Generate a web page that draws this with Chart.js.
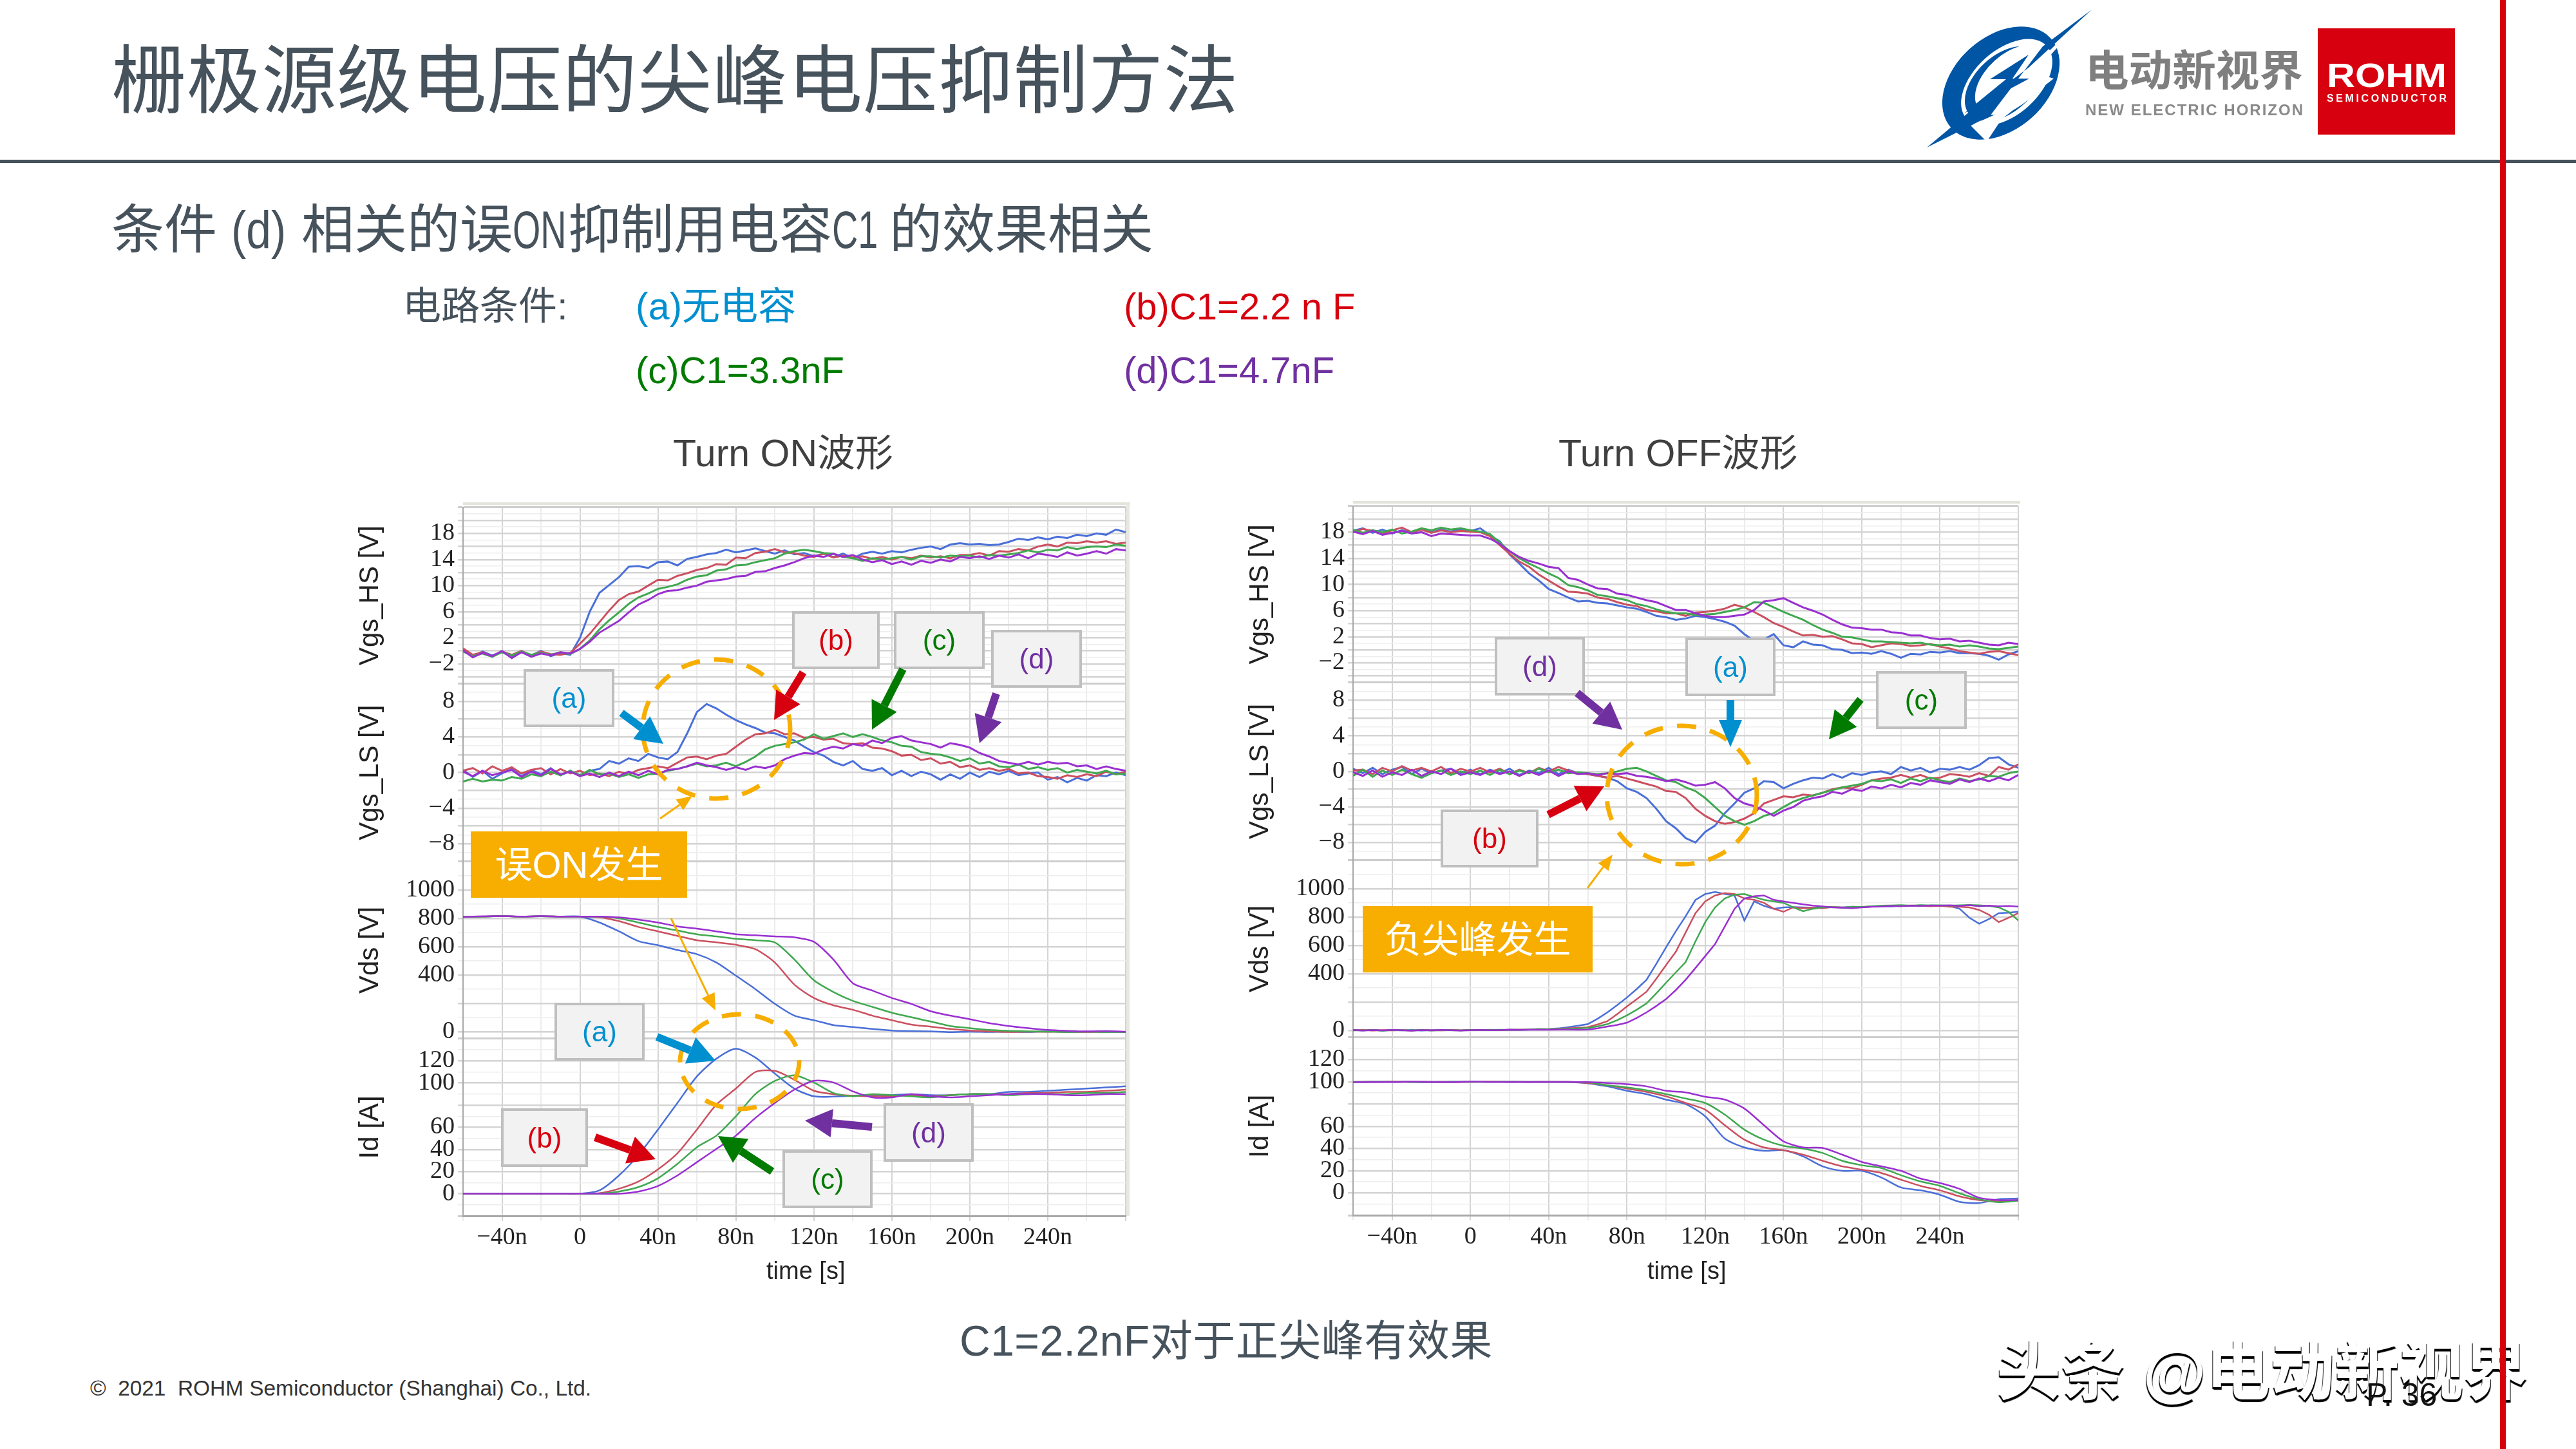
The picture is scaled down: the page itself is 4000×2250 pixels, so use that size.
<!DOCTYPE html>
<html>
<head>
<meta charset="utf-8">
<title>栅极源级电压的尖峰电压抑制方法</title>
<script src="https://cdn.jsdelivr.net/npm/chart.js@4/dist/chart.umd.js"></script>
<style>
html, body { margin: 0; background: #fff; }
#page { position: relative; width: 4000px; height: 2250px; overflow: hidden; background: #fff; font-family: 'Liberation Sans', 'Noto Sans CJK SC', sans-serif; }
#page canvas { position: absolute; }
#page svg { position: absolute; left: 0; top: 0; }
.t { position: absolute; white-space: pre; transform: translateY(-50%); line-height: 1; }
.slate { color: #46525c; }
/* the latin parts of the subtitle are set very narrow in the original */
.nw { display: inline-block; vertical-align: baseline; }
.nw span { display: inline-block; transform: scaleX(0.68); transform-origin: 0 50%; }
</style>
</head>
<body>
<div id="page">
  <canvas id="turnOn" width="1240" height="1240" style="left:540px;top:760px"></canvas>
  <canvas id="turnOff" width="1240" height="1240" style="left:1922px;top:758px"></canvas>

  <div class="t slate" style="left:173px;top:126px;font-size:116px;letter-spacing:0.7px">栅极源级电压的尖峰电压抑制方法</div>
  <div class="t slate" style="left:173px;top:357px;font-size:82px">条件<span class="nw" style="width:85px;margin:0 24px 0 22px"><span style="transform:scaleX(0.85)">(d)</span></span>相关的误<span class="nw" style="width:86px"><span>ON</span></span>抑制用电容<span class="nw" style="width:72px;margin-right:17px"><span>C1</span></span>的效果相关</div>
  <div class="t slate" style="left:625px;top:476px;font-size:60px">电路条件:</div>
  <div class="t" style="left:987px;top:476px;font-size:59px;color:#0090d0">(a)无电容</div>
  <div class="t" style="left:1745px;top:476px;font-size:58px;color:#d7000f">(b)C1=2.2 n F</div>
  <div class="t" style="left:987px;top:575px;font-size:58px;color:#007b00">(c)C1=3.3nF</div>
  <div class="t" style="left:1745px;top:575px;font-size:58px;color:#7030a0">(d)C1=4.7nF</div>
  <div class="t" style="left:1045px;top:704px;font-size:59px;color:#404040">Turn ON波形</div>
  <div class="t" style="left:2420px;top:704px;font-size:59px;color:#404040">Turn OFF波形</div>
  <div class="t" style="left:1190px;top:1973px;font-size:38px;color:#222">time [s]</div>
  <div class="t" style="left:2558px;top:1973px;font-size:38px;color:#222">time [s]</div>
  <div class="t slate" style="left:1490px;top:2082px;font-size:66px;letter-spacing:0.5px">C1=2.2nF对于正尖峰有效果</div>
  <div class="t" style="left:140px;top:2156px;font-size:33.4px;color:#333">©  2021  ROHM Semiconductor (Shanghai) Co., Ltd.</div>

  <svg id="notes" width="4000" height="2250" xmlns="http://www.w3.org/2000/svg"></svg>

  <div class="t" style="left:3100px;top:2130px;font-size:100px;font-weight:bold;color:#fff;text-shadow:-1px 3px 1px #000,1px 4px 1px #000">头条 @电动新视界</div>
  <div class="t" style="left:3674px;top:2166px;font-size:50px;color:#111">P. 36</div>
  <div style="position:absolute;left:3882px;top:0;width:9px;height:2250px;background:#d7000f"></div>
</div>

<script>
// sample times in ns
const tFine = [-60,-55,-50,-45,-40,-35,-30,-25,-20,-15,-10,-5,0,5,10,15,20,25,30,35,40,45,50,55,60,65,70,75,80,85,90,95,100,105,110,115,120,125,130,135,140,145,150,155,160,165,170,175,180,185,190,195,200,205,210,215,220,225,230,235,240,245,250,255,260,265,270,275,280];
const tCoarse = [-60,-50,-40,-30,-20,-10,0,10,20,30,40,50,60,70,80,90,100,110,120,130,140,150,160,170,180,190,200,210,220,230,240,250,260,270,280];

// Turn ON
const onHsA = [0.2,-0.9,-0.1,-0.7,-0.2,-0.9,-0.2,-0.7,0,-0.8,-0.3,-0.6,
  2.0,6.0,8.9,10.1,11.3,12.9,13.0,12.7,13.6,13.7,13.1,14.1,14.4,14.8,15.0,15.5,15.1,15.4,15.7,15.3,14.9,15.4,14.8,15.0,14.5,14.9,14.4,14.9,14.2,14.9,15.2,14.9,15.3,15.1,15.5,15.8,16.0,15.6,16.3,16.5,16.3,16.4,16.2,16.3,16.7,17.2,17.0,17.4,17.1,17.5,17.3,17.8,17.6,18.0,17.8,18.6,18.2];
const onHsB = [0.4,-0.6,-0.2,-0.8,-0.1,-0.6,0,-0.7,-0.1,-0.5,-0.6,-0.3,
  1.1,2.6,4.4,6.2,7.8,8.7,9.1,10.0,10.9,10.8,11.5,11.9,12.4,12.7,13.3,13.2,14.3,14.2,15.0,15.2,15.6,15.1,15.0,14.6,14.4,14.9,14.3,14.6,14.3,14.5,14.1,14.4,14.0,14.4,14.2,14.6,14.3,14.5,14.2,14.7,14.7,15.0,14.6,15.3,15.2,15.6,15.4,16.0,16.3,16.0,16.6,16.5,16.8,16.6,16.8,16.4,16.6];
const onHsC = [-0.1,-0.8,-0.4,-0.9,-0.2,-0.7,-0.1,-0.6,-0.3,-0.6,-0.2,-0.5,
  0.3,1.6,3.3,4.7,5.9,7.2,8.2,8.8,9.5,9.8,10.2,10.9,11.4,11.6,12.3,12.5,13.1,13.2,13.6,13.9,14.2,14.9,15.3,15.5,15.3,15.0,14.9,14.4,14.2,13.8,14.2,14.0,14.2,14.4,14.0,14.5,14.5,14.3,14.6,14.5,14.6,14.3,14.7,14.6,14.8,15.0,15.4,15.1,15.5,15.4,15.9,15.6,15.9,16.0,15.9,16.3,16.1];
const onHsD = [0.1,-1.0,-0.3,-0.8,0,-1.1,-0.2,-0.9,-0.4,-0.7,-0.2,-0.4,
  0.3,1.4,2.8,3.7,4.6,5.9,7.1,7.8,8.7,9.2,9.3,9.7,10.0,10.6,10.8,11.0,11.4,11.5,12.1,12.2,12.7,13.1,13.6,14.2,14.6,14.4,14.9,14.4,14.7,14.0,13.6,13.9,13.3,13.7,13.2,13.8,13.5,14.0,13.7,14.4,14.2,14.5,14.1,14.6,14.3,14.8,14.2,14.9,14.7,14.4,15.1,14.6,14.9,15.3,14.9,15.6,15.4];

const onLsA = [0.3,-0.5,0.2,-0.7,-0.1,0.4,-0.4,0.3,-0.2,0.5,-0.3,0.2,
  -0.3,0.2,0.4,1.3,1.0,1.6,1.3,2.1,1.7,1.5,2.3,4.4,6.8,7.7,7.2,6.5,5.9,5.4,5.0,4.5,4.4,4.0,3.6,2.9,2.3,1.9,1.2,0.8,1.3,0.4,0.2,0.5,-0.3,0.2,-0.4,0.1,-0.2,-0.8,-0.2,-0.7,0,-0.5,0.1,-0.2,0.2,-0.3,-0.1,0,-0.8,-0.5,-1.1,-0.6,-0.9,-0.3,-0.4,0,-0.3];
const onLsB = [0.2,0.5,-0.1,0.7,0.2,0.6,-0.1,0.3,0.5,-0.2,0.4,-0.1,
  0.2,-0.3,-0.1,-0.4,0.1,-0.2,0.3,0.5,0.7,0.5,1.1,1.7,1.8,1.5,1.9,2.1,2.9,3.7,4.3,4.4,4.8,4.3,4.4,3.9,4.0,3.7,3.8,3.3,3.2,3.3,2.8,2.7,2.4,1.9,2.0,1.4,1.6,1.0,1.2,0.6,0.8,0.3,0.5,0.2,0.4,-0.1,0,-0.4,-0.5,-0.7,-0.3,-0.5,-0.2,-0.4,0.1,-0.2,0.1];
const onLsC = [-1.0,-0.7,-1.0,-0.8,-0.9,-0.5,-0.7,-0.2,-0.4,0.1,-0.3,0.2,
  -0.3,0.3,-0.2,-0.1,-0.5,-0.2,-0.6,-0.2,-0.1,0.2,0.4,0.7,1.0,0.7,0.8,1.1,0.7,1.2,1.8,2.6,3.0,3.2,3.4,3.7,4.3,3.8,4.1,4.4,4.0,4.3,4.0,3.6,3.4,3.0,2.9,2.3,2.1,2.0,1.7,1.3,1.6,1.0,1.2,0.7,0.6,0.9,0.4,0.6,0.3,0.5,0,0.3,0.1,-0.1,0.2,-0.2,-0.1];
const onLsD = [0.1,-0.4,0.2,-0.3,0,0.3,-0.5,0.1,-0.3,0.4,-0.2,0.1,
  -0.4,-0.1,-0.5,0,-0.4,0.1,-0.3,0.2,-0.2,0.3,0.4,0.7,1.1,0.8,0.6,0.3,0.6,0.3,0.7,0.5,0.8,1.5,1.9,2.2,2.1,2.6,2.9,2.7,3.2,3.0,3.6,3.3,3.9,4.1,3.6,3.4,3.2,2.8,3.3,3.1,2.8,2.2,1.8,1.3,1.1,0.9,1.2,0.9,1.2,1.0,1.1,0.7,0.8,0.4,0.7,0.4,0.2];

const onVdsA = [810,812,815,812,814,812,812,770,708,639,610,576,547,488,395,300,196,113,81,46,33,19,8,4,2,-4,0,-2,0,-3,2,-2,0,-1,-2];
const onVdsB = [810,812,815,812,814,812,812,808,780,739,708,676,645,630,613,582,488,332,238,186,155,113,81,50,35,19,8,2,-2,0,-1,0,-2,0,-1];
const onVdsC = [810,812,815,812,814,812,812,812,800,770,739,714,687,672,655,645,630,509,363,280,217,175,134,102,71,40,25,12,6,2,0,-2,0,-3,-2];
const onVdsD = [810,814,816,812,815,812,812,812,806,791,770,743,727,708,687,680,672,666,634,509,342,290,238,196,144,113,88,60,40,25,12,6,2,4,0];

const onIdA = [0,0,0,0,0,0,0,3,16.5,35,58,82,106,122,131,123,108.5,95,88,87.7,88.5,89,89,90,89,89,90,90,92,92,93,94,95,96,97];
const onIdB = [0,0,0,0,0,0,0,0.5,4.5,11,22,36.5,58,80.5,95,110,111,103,93,90,88.5,88,88,89,88,89,90,90,90,91,91,92,92,93,94];
const onIdC = [0,0,0,0,0,0,0,0,2,6,14,27,42,52.5,70,90,102,107,100.5,91,88,90,89,88,87,89,90,90,89,90,90,90,91,91,92];
const onIdD = [0,0,0,0,0,0,0,0,0,2,7,16.5,28.5,40.5,52.5,68.5,82,94,102,100.5,92.5,87,87,90,88,87,88,89,90,90,90,89,89,90,90];

// Turn OFF
const offHsA = [18.2,18.6,17.9,18.4,17.8,18.3,17.9,18.5,18.0,18.4,18.1,18.5,
  18.2,18.6,17.5,16.6,14.6,13.2,11.7,10.6,9.3,8.7,8.0,7.4,7.5,7.2,7.1,6.8,6.5,6.3,5.8,5.2,5.0,4.6,4.8,5.2,5.0,4.7,4.3,3.7,2.4,1.4,1.6,2.4,0.7,0.4,1.3,0.8,0.7,0.1,0,-0.5,-0.4,-0.6,-0.2,-0.6,-1.2,-0.6,-0.7,-0.3,-0.4,-0.2,-0.5,-0.5,-0.6,-0.9,-1.5,-0.7,-0.2];
const offHsB = [18.0,18.5,18.2,17.7,18.3,18.7,18.0,18.4,17.9,18.3,18.0,18.2,
  18.1,18.0,17.4,16.0,14.7,13.5,12.7,11.5,10.6,9.7,8.9,8.8,8.6,8.0,7.8,7.3,6.9,6.7,6.1,5.9,5.6,5.6,5.2,5.7,5.8,6.0,6.3,6.9,6.5,5.8,5.0,4.1,3.5,2.8,2.2,2.3,2.0,2.1,1.6,1.0,0.9,0.4,0.7,1.0,0.9,0.6,0.7,0.9,0.5,0.2,-0.2,-0.4,-0.6,-0.3,-0.2,-0.5,-0.8];
const offHsC = [18.4,17.9,18.3,18.0,18.4,17.8,18.1,18.6,18.3,18.7,18.4,18.6,
  18.3,18.1,17.7,16.4,15.1,14.0,13.2,12.5,11.7,11.0,9.9,9.6,9.1,8.4,8.2,7.9,7.6,7.0,6.7,6.2,5.8,5.6,5.6,5.3,5.4,5.5,5.8,6.1,6.5,7.3,7.2,6.5,5.8,5.2,4.6,3.8,3.1,2.6,2.0,1.9,1.6,1.3,1.3,1.2,1.1,1.0,1.1,0.8,0.7,0.8,0.5,0.7,0.5,0.2,0.1,0.3,0.5];
const offHsD = [18.1,17.7,18.2,17.6,17.9,18.2,17.8,18.0,17.4,17.8,17.7,17.6,
  17.5,17.5,17.0,16.2,15.1,14.2,13.6,13.2,12.7,12.5,11.0,10.7,10.0,9.4,9.3,8.6,8.4,8.0,7.6,7.3,6.7,6.1,6.1,5.6,5.2,5.0,5.0,5.2,5.4,6.1,7.4,7.6,7.9,7.2,6.5,6.0,5.4,4.6,3.9,3.4,3.3,3.1,3.1,2.7,2.6,2.2,2.2,1.8,1.6,1.7,1.3,1.4,1.1,0.8,0.7,1.1,0.9];

const offLsA = [0.3,-0.2,0.4,-0.3,0.2,0.5,-0.3,0.3,-0.2,0.1,0.3,-0.2,
  0.2,-0.3,0.2,-0.2,0.3,-0.4,0.1,-0.2,0.4,-0.3,0.2,-0.2,-0.3,-0.5,-0.7,-1.1,-1.9,-2.3,-3.0,-4.2,-5.6,-6.4,-7.5,-8.0,-6.8,-6.1,-4.7,-3.6,-2.4,-1.9,-1.1,-1.2,-1.9,-1.4,-1.0,-0.7,-0.8,-0.3,-0.7,-0.2,-0.4,-0.1,0,-0.3,0.5,0.1,0.4,-0.1,0.3,0.2,0.5,0.2,0.7,1.5,1.6,0.8,0.4];
const offLsB = [0.1,0.2,-0.3,0.4,0,0.6,0.1,0.4,0,0.5,-0.2,0.3,
  0,0.4,-0.1,0.3,-0.3,0.2,-0.2,0.4,0,0.5,0.1,-0.2,-0.3,-0.5,-0.7,-0.5,-0.8,-1.1,-1.4,-1.7,-2.2,-2.3,-3.0,-4.2,-5.0,-5.6,-5.9,-5.7,-5.3,-4.7,-3.6,-3.2,-2.8,-2.9,-2.6,-2.7,-2.4,-2.0,-1.8,-1.9,-1.5,-1.0,-0.8,-0.7,-0.4,-0.7,-0.4,-0.8,-0.7,-0.3,-0.4,-0.6,-0.2,-0.5,0.5,0.2,0.8];
const offLsC = [-0.5,0.2,-0.6,0.1,-0.4,0.2,-0.3,-0.7,-0.2,0.1,-0.4,0,
  -0.3,0.1,-0.4,0.2,-0.3,0.1,-0.2,0.3,-0.1,0.2,-0.2,-0.1,-0.2,-0.3,-0.2,0,0.3,0.4,0,-0.5,-1.0,-1.2,-1.8,-2.2,-3.0,-4.0,-5.0,-5.6,-6.0,-5.6,-5.0,-4.7,-4.0,-3.4,-3.0,-2.7,-2.4,-2.1,-1.8,-1.6,-1.4,-1.0,-1.1,-0.9,-1.3,-0.8,-1.1,-0.7,-1.0,-1.2,-0.8,-1.1,-0.9,-0.5,-0.6,-0.2,0];
const offLsD = [-0.1,-0.5,0.1,-0.6,-0.1,-0.4,0.2,-0.5,0,-0.3,0.3,-0.4,
  -0.1,-0.4,0.1,-0.3,0,-0.5,0,-0.4,0.1,-0.5,0,-0.3,-0.2,-0.4,-0.2,-0.3,-0.2,-0.5,-0.6,-0.8,-1.1,-0.9,-1.2,-1.6,-1.5,-1.2,-1.9,-3.0,-3.6,-3.9,-4.4,-5.0,-4.4,-4.0,-3.3,-3.0,-2.8,-2.3,-2.5,-2.0,-2.2,-1.7,-1.9,-1.5,-1.8,-1.3,-1.5,-1.0,-1.2,-1.4,-0.9,-1.2,-0.8,-1.1,-0.7,-1.0,-0.4];

const offVdsA = [2,0,3,-1,2,0,3,-1,2,1,3,0,
  3,2,4,1,5,3,6,8,9,14,23,33,44,82,127,178,232,292,357,470,587,700,806,920,962,977,962,952,775,910,879,858,868,870,868,866,868,870,868,872,870,874,876,875,880,878,881,880,879,878,858,795,753,785,827,830,837];
const offVdsB = [0,3,-1,2,0,2,-1,3,1,0,2,1,
  2,1,3,2,4,5,6,8,9,11,14,18,23,42,65,115,169,220,273,365,461,555,691,827,910,952,969,962,931,921,900,858,837,868,862,864,862,870,868,866,870,874,876,880,878,881,879,876,879,872,872,868,850,816,764,795,827];
const offVdsC = [1,0,3,-2,2,1,0,3,-1,2,1,0,
  2,3,2,4,3,4,6,10,8,9,11,13,17,28,44,72,106,146,190,262,336,410,482,628,764,868,931,958,962,941,921,910,900,868,841,858,868,870,866,872,871,876,880,882,884,880,884,882,883,880,883,885,883,878,868,837,775];
const offVdsD = [3,-1,2,0,3,1,-2,2,0,3,1,-1,
  1,3,1,2,4,3,4,5,4,5,6,4,6,15,27,38,54,88,127,172,221,285,357,440,524,608,733,858,931,946,952,921,910,900,889,880,875,868,866,862,868,872,874,878,876,880,878,881,880,882,878,884,876,880,876,878,873];

const offIdA = [99.8,100,100.3,100,99.7,100,100.2,100,99.9,100,100,99.8,98.7,96,92,89,84,80,69,49,41,38,38.5,33,24,20,20,14,5,2.4,-1.6,-8,-9,-5.6,-5];
const offIdB = [100,99.9,100.2,100,100,99.8,100,100.2,100,100,100,100,99,97,94,91,87,81,75,61,48,41,38.5,34.5,29,24,21,18,12,6.4,2.4,-3,-6.4,-7.5,-6.4];
const offIdC = [100,100.2,100,99.9,100,100.3,100,100,100.2,100,100,100,99.5,97,95,92.5,89,85,81,70.6,57,48,42.5,40,36,29,25,22.5,16,10.4,6.4,-0.3,-5.6,-8.3,-7];
const offIdD = [99.7,100,99.8,100.2,100,99.9,100.2,100,100,99.9,100,100,99.8,99,98,96,92,90.6,86.6,84,76,61,46.5,41,40.6,34.5,28,24,20,13,9,3.7,-4.3,-6.4,-6.4];

const hsTicks = [18,14,10,6,2,-2];
const lsTicks = [8,4,0,-4,-8];
const vdsTicks = [1000,800,600,400,0];
const idTicks = [120,100,60,40,20,0];
const xTicks = [-40,0,40,80,120,160,200,240];
const xLabels = ['−40n','0','40n','80n','120n','160n','200n','240n'];

const seriesColors = ['#4a6fd8','#cb5060','#40a850','#9a30d0'];
const tickFont = { family: 'Liberation Serif', size: 38 };
const titleFont = { family: 'Liberation Sans', size: 42 };

// one stacked y axis, gridlines every minorStep, darker every majorStep
function paneAxis(title, min, max, minorStep, majorStep, labels, height, weight) {
    return {
        type: 'linear',
        position: 'left',
        stack: 'panes',
        stackWeight: height,
        weight: weight,
        min: min,
        max: max,
        border: { color: '#a8a8a8', width: 2 },
        title: { display: true, text: title, color: '#222', font: titleFont, padding: { top: 10, bottom: 0 } },
        grid: {
            tickLength: 8,
            color: c => c.tick.value === min || c.tick.value === max ? '#cdcdcd' : (c.tick.value % majorStep === 0 ? '#d4d4d4' : '#eeeeee'),
            lineWidth: c => c.tick.value === min || c.tick.value === max ? 3 : (c.tick.value % majorStep === 0 ? 2.5 : 1.5)
        },
        ticks: {
            autoSkip: false,
            color: '#222',
            font: tickFont,
            padding: 5,
            callback: v => labels.includes(v) ? String(v).replace('-', '−') : ''
        },
        afterBuildTicks: scale => {
            const list = [{ value: min }];
            for (let v = Math.floor(min / minorStep + 1) * minorStep; v < max; v += minorStep) list.push({ value: v });
            list.push({ value: max });
            scale.ticks = list;
        },
        afterFit: scale => { scale.width = 179; }
    };
}

function line(i, times, values, axis, tension, width) {
    return {
        data: values.map((v, k) => ({ x: times[k], y: v })),
        yAxisID: axis,
        borderColor: seriesColors[i],
        borderWidth: width,
        pointRadius: 0,
        tension: tension
    };
}

function makePanel(id, hs, ls, vds, ids, vdsTimes, heights, padTop, padRight) {
    const datasets = [];
    [0, 1, 2, 3].forEach(i => {
        datasets.push(line(i, tFine, hs[i], 'yHs', 0, 3));
        datasets.push(line(i, tFine, ls[i], 'yLs', 0, 3));
        datasets.push(line(i, vdsTimes, vds[i], 'yVds', vdsTimes === tCoarse ? 0.25 : 0, 2.5));
        datasets.push(line(i, tCoarse, ids[i], 'yId', 0.25, 2.5));
    });
    // blue first, purple last on top
    datasets.forEach((d, k) => { d.order = 32 - k; });

    return new Chart(document.getElementById(id), {
        type: 'line',
        data: { datasets: datasets },
        options: {
            responsive: false,
            animation: false,
            parsing: false,
            normalized: true,
            layout: { padding: { top: padTop, right: padRight, left: 0, bottom: 0 } },
            plugins: { legend: { display: false }, tooltip: { enabled: false } },
            scales: {
                x: {
                    type: 'linear',
                    min: -60,
                    max: 280,
                    border: { color: '#a8a8a8', width: 3 },
                    grid: {
                        tickLength: 8,
                        color: c => c.tick.value % 40 === 0 ? '#d4d4d4' : '#ececec',
                        lineWidth: 2
                    },
                    ticks: {
                        autoSkip: false,
                        maxRotation: 0,
                        color: '#222',
                        font: tickFont,
                        padding: 3,
                        callback: v => xTicks.includes(v) ? xLabels[xTicks.indexOf(v)] : ''
                    },
                    afterBuildTicks: scale => {
                        const list = [];
                        for (let v = -60; v <= 280; v += 20) list.push({ value: v });
                        scale.ticks = list;
                    },
                    afterFit: scale => { scale.height = 1240 - padTop - heights.reduce((a, b) => a + b, 0); }
                },
                yId: paneAxis('Id [A]', -20, 140, 10, 20, idTicks, heights[3], 1),
                yVds: paneAxis('Vds [V]', -50, 1200, 100, 200, vdsTicks, heights[2], 2),
                yLs: paneAxis('Vgs_LS [V]', -10, 10, 1, 2, lsTicks, heights[1], 3),
                yHs: paneAxis('Vgs_HS [V]', -5, 22, 1, 2, hsTicks, heights[0], 4)
            }
        }
    });
}

makePanel('turnOn',
    [onHsA, onHsB, onHsC, onHsD], [onLsA, onLsB, onLsC, onLsD],
    [onVdsA, onVdsB, onVdsC, onVdsD], [onIdA, onIdB, onIdC, onIdD],
    tCoarse, [274.5, 277.5, 276, 276], 24, 32);
makePanel('turnOff',
    [offHsA, offHsB, offHsC, offHsD], [offLsA, offLsB, offLsC, offLsD],
    [offVdsA, offVdsB, offVdsC, offVdsD], [offIdA, offIdB, offIdC, offIdD],
    tFine, [275, 277, 276, 277], 24, 28);

// callouts, arrows and logos on top of the charts
const BLUE = '#0090d0', RED = '#d7000f', GREEN = '#007b00', PURPLE = '#7030a0', ORANGE = '#f7ae00';
let svg = '';

function box(x, y, w, h, text, color) {
    svg += `<rect x="${x}" y="${y}" width="${w}" height="${h}" fill="#f2f2f2" stroke="#bfbfbf" stroke-width="4"/>`;
    svg += `<text x="${x + w / 2}" y="${y + h / 2 + 15}" text-anchor="middle" font-size="44" fill="${color}">${text}</text>`;
}

function arrow(x1, y1, x2, y2, color, w, headLen, headW) {
    const len = Math.hypot(x2 - x1, y2 - y1), ux = (x2 - x1) / len, uy = (y2 - y1) / len;
    const bx = x2 - ux * headLen, by = y2 - uy * headLen;
    svg += `<line x1="${x1}" y1="${y1}" x2="${bx}" y2="${by}" stroke="${color}" stroke-width="${w}"/>`;
    svg += `<polygon points="${x2},${y2} ${bx - uy * headW / 2},${by + ux * headW / 2} ${bx + uy * headW / 2},${by - ux * headW / 2}" fill="${color}"/>`;
}

function ring(x0, y0, x1, y1) {
    svg += `<ellipse cx="${(x0 + x1) / 2}" cy="${(y0 + y1) / 2}" rx="${(x1 - x0) / 2}" ry="${(y1 - y0) / 2}" fill="none" stroke="${ORANGE}" stroke-width="7" stroke-dasharray="30 22"/>`;
}

function banner(x, y, w, h, text) {
    svg += `<rect x="${x}" y="${y}" width="${w}" height="${h}" fill="${ORANGE}"/>`;
    svg += `<text x="${x + w / 2}" y="${y + h / 2 + 20}" text-anchor="middle" font-size="58" fill="#fff">${text}</text>`;
}

// pale frame along the top and right of each plot
svg += `<rect x="719" y="780" width="1036" height="4" fill="#e4e4dc"/><rect x="1749" y="780" width="5" height="1108" fill="#e8e8e2"/>`;
svg += `<rect x="2101" y="778" width="1036" height="4" fill="#e4e4dc"/>`;

ring(998, 1024, 1227, 1240);
ring(1056, 1575, 1241, 1722);
ring(2495, 1127, 2728, 1342);

box(815, 1041, 137, 86, '(a)', BLUE);
box(1232, 951, 132, 86, '(b)', RED);
box(1390, 951, 137, 86, '(c)', GREEN);
box(1541, 980, 137, 86, '(d)', PURPLE);
box(863, 1559, 136, 86, '(a)', BLUE);
box(780, 1723, 131, 87, '(b)', RED);
box(1217, 1788, 136, 86, '(c)', GREEN);
box(1374, 1715, 136, 87, '(d)', PURPLE);
box(2323, 991, 136, 87, '(d)', PURPLE);
box(2619, 992, 136, 87, '(a)', BLUE);
box(2915, 1044, 137, 86, '(c)', GREEN);
box(2239, 1259, 148, 86, '(b)', RED);

arrow(965, 1107, 1030, 1155, BLUE, 12, 42, 44);
arrow(1247, 1044, 1202, 1118, RED, 12, 42, 44);
arrow(1402, 1039, 1354, 1133, GREEN, 12, 42, 44);
arrow(1547, 1077, 1521, 1154, PURPLE, 12, 42, 44);
arrow(1020, 1610, 1111, 1647, BLUE, 12, 42, 44);
arrow(924, 1766, 1018, 1800, RED, 12, 42, 44);
arrow(1199, 1819, 1115, 1764, GREEN, 12, 42, 44);
arrow(1354, 1750, 1250, 1740, PURPLE, 12, 42, 44);
arrow(2449, 1076, 2519, 1133, PURPLE, 12, 42, 44);
arrow(2687, 1087, 2687, 1160, BLUE, 12, 42, 36);
arrow(2889, 1086, 2840, 1148, GREEN, 12, 42, 44);
arrow(2404, 1265, 2491, 1221, RED, 12, 42, 44);
arrow(1025, 1271, 1075, 1236, ORANGE, 3, 24, 20);
arrow(1042, 1426, 1111, 1569, ORANGE, 3, 26, 22);
arrow(2465, 1379, 2504, 1327, ORANGE, 3, 24, 20);

banner(731, 1291, 336, 103, '误ON发生');
banner(2116, 1407, 357, 103, '负尖峰发生');

// header rule and logos
svg += `<rect x="0" y="248" width="4000" height="5" fill="#44505a"/>`;
svg += `<g fill="#0055a5">
  <ellipse cx="3107" cy="129" rx="72" ry="104" transform="rotate(48 3107 129)"/>
  <ellipse cx="3116" cy="128" rx="50" ry="84" transform="rotate(48 3116 128)" fill="#fff"/>
  <ellipse cx="3112" cy="130" rx="44" ry="72" transform="rotate(48 3112 130)"/>
  <ellipse cx="3124" cy="124" rx="40" ry="68" transform="rotate(48 3124 124)" fill="#fff"/>
  <polygon points="3248,15 3150,110 3189,122 3108,185 3085,220 3060,195 3102,176" fill="#fff"/>
  <polygon points="3248,15 3172,72 3090,180 2992,229 3060,172 3150,105" />
  <polygon points="3150,85 3090,123 3115,123 3050,176 3151,122 3125,122"/>
</g>`;
svg += `<text x="3238" y="133" font-size="66" font-weight="bold" fill="#7f7f7f" textLength="338" lengthAdjust="spacingAndGlyphs">电动新视界</text>`;
svg += `<text x="3238" y="179" font-size="24" font-weight="bold" fill="#8a8a8a" textLength="338" lengthAdjust="spacing">NEW ELECTRIC HORIZON</text>`;
svg += `<rect x="3599" y="44" width="213" height="165" fill="#d7000f"/>`;
svg += `<text x="3613" y="135" font-size="52" font-weight="bold" fill="#fff" textLength="186" lengthAdjust="spacingAndGlyphs">ROHM</text>`;
svg += `<text x="3613" y="158" font-size="16" font-weight="bold" fill="#fff" textLength="186" lengthAdjust="spacing">SEMICONDUCTOR</text>`;

const notes = document.getElementById('notes');
notes.setAttribute('font-family', "'Liberation Sans','Noto Sans CJK SC',sans-serif");
notes.innerHTML = svg;
</script>
</body>
</html>
